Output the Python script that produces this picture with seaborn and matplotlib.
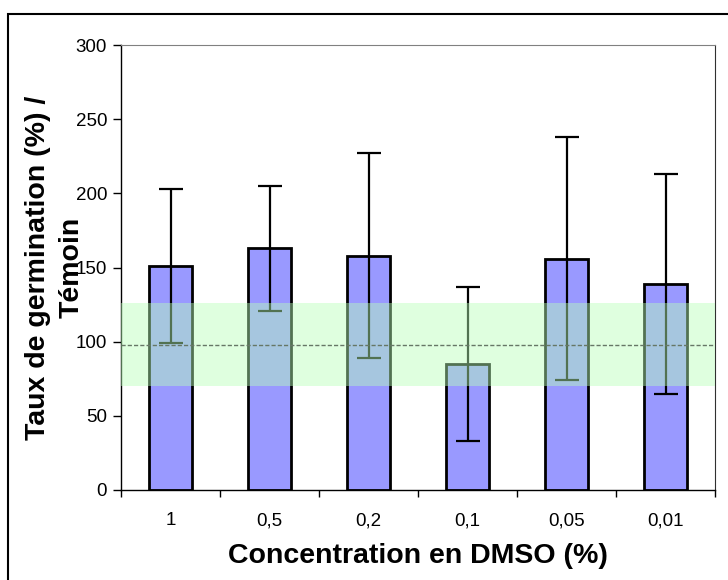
import numpy as np
import pandas as pd
import seaborn as sns
import matplotlib.pyplot as plt
from matplotlib.patches import Rectangle

# data
concentrations = ["1", "0,5", "0,2", "0,1", "0,05", "0,01"]
taux = [151, 163, 158, 85, 156, 139]
ecart = [52, 42, 69, 52, 82, 74]
temoin_moy = 98
temoin_bas = 70
temoin_haut = 126

sns.set_style("white")
plt.rcParams['font.family'] = ['Liberation Sans', 'DejaVu Sans']
plt.rcParams.update({"text.color": "black", "axes.labelcolor": "black",
                     "xtick.color": "black", "ytick.color": "black"})

df = pd.DataFrame({"conc": concentrations, "taux": taux})

fig = plt.figure(figsize=(7.28, 5.80), dpi=100)
ax = fig.add_axes([121/728, 90/580, (715-121)/728, (490-45)/580])

sns.barplot(data=df, x="conc", y="taux", color="#9999FF", saturation=1,
            edgecolor="black", linewidth=2, width=0.43, errorbar=None, ax=ax, zorder=2)
ax.errorbar(np.arange(len(taux)), taux, yerr=ecart, fmt="none", ecolor="black",
            elinewidth=1.6, capsize=8.5, capthick=1.6, zorder=3)

# zone du témoin
ax.axhspan(temoin_bas, temoin_haut, color="#b8ffb8", alpha=0.45, lw=0, zorder=4)
ax.axhline(temoin_moy, color="#667766", lw=1, ls=(0, (3, 1.5)), zorder=5)

ax.set_ylim(0, 300)
ax.set_xlim(-0.5, len(taux) - 0.5)
ax.set_yticks(range(0, 301, 50))
ax.set_xticks(np.arange(len(taux)))
ax.set_xticks(np.arange(len(taux) + 1) - 0.5, minor=True)
ax.tick_params(axis="x", which="major", length=0, pad=16, labelsize=13.5)
ax.tick_params(axis="x", which="minor", length=5, width=1, color="black", direction="out", bottom=True)
ax.tick_params(axis="y", length=6, width=1, color="black", direction="out", left=True, labelsize=13.5, pad=4)

for s in ["left", "bottom"]:
    ax.spines[s].set_color("black")
    ax.spines[s].set_linewidth(1)
ax.spines["top"].set_color("#808080")
ax.spines["right"].set_color("#303030")

ax.set_xlabel("Concentration en DMSO (%)", fontsize=20.5, fontweight="bold")
ax.set_ylabel("Taux de germination (%) /\nTémoin", fontsize=20.5, fontweight="bold",
              linespacing=1.35)
ax.yaxis.set_label_coords(-0.062, 0.5)
ax.xaxis.set_label_coords(0.5, -0.12)

# cadre extérieur
fig.patches.append(Rectangle((8/728, -0.1), 1.2, 1 - 14/580 + 0.1, transform=fig.transFigure,
                             fill=False, edgecolor="black", lw=1.5))

fig.savefig("out.png", dpi=100)
